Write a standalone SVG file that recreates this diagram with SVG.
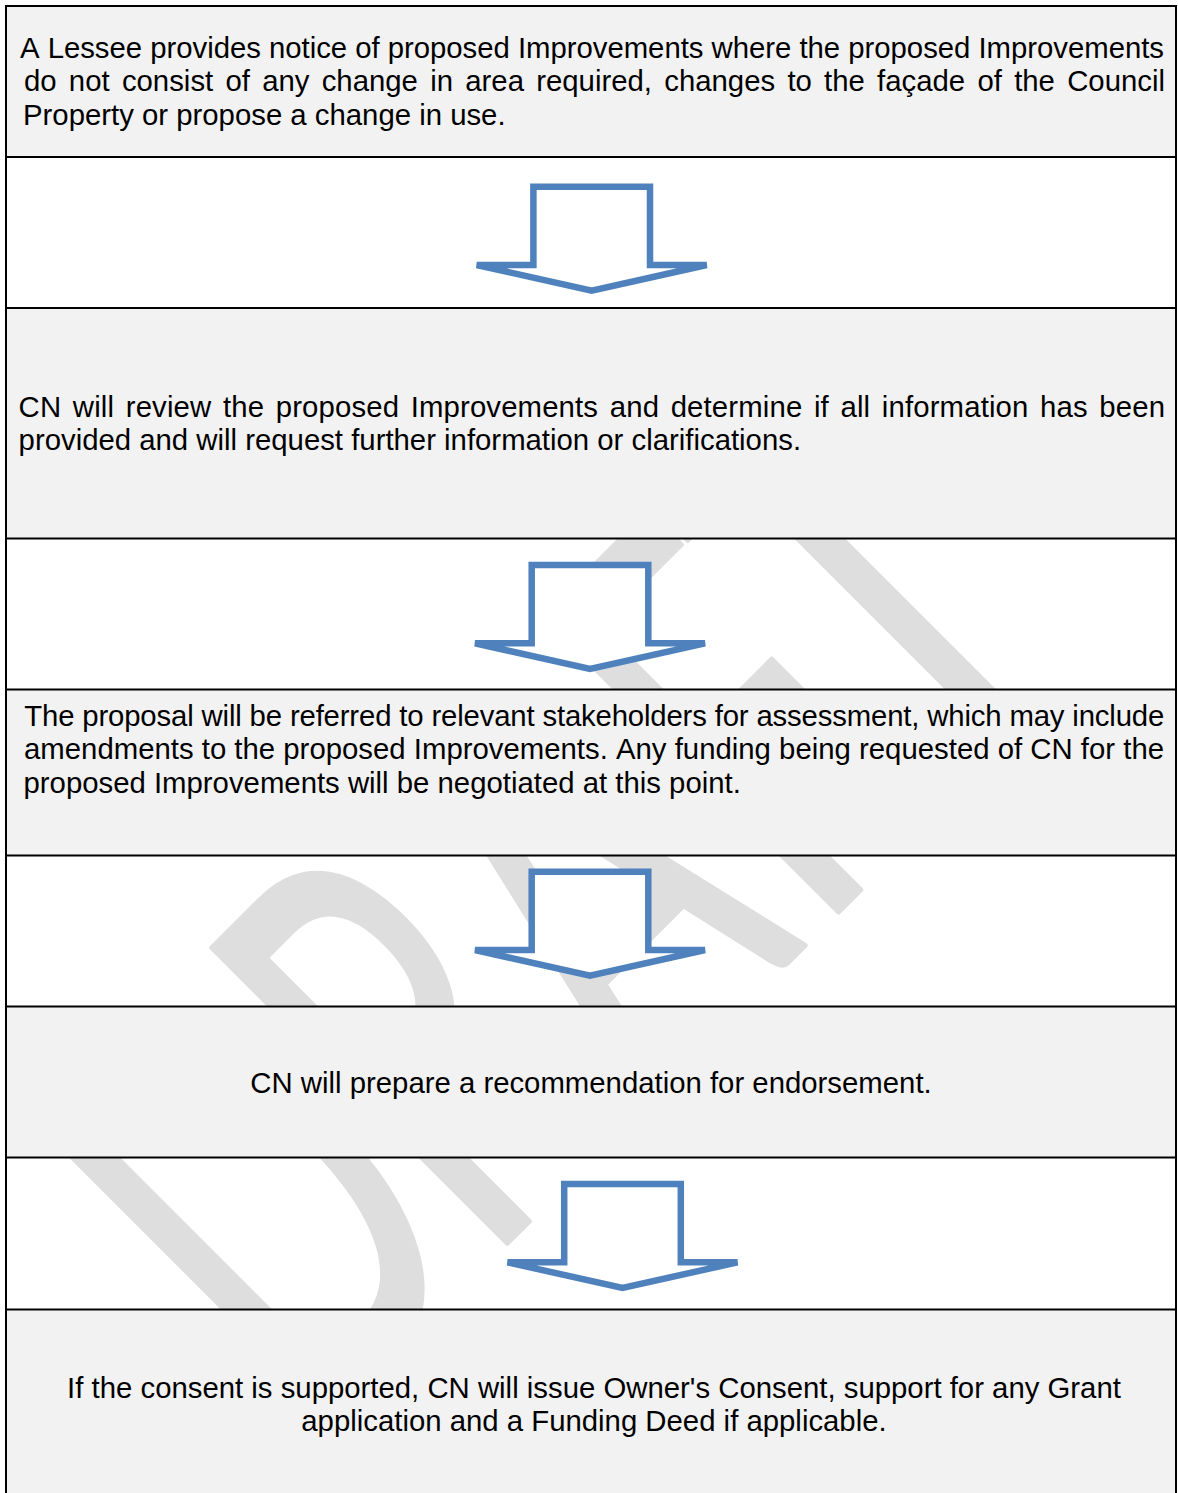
<svg xmlns="http://www.w3.org/2000/svg" width="1178" height="1493" viewBox="0 0 1178 1493">
<style>
.cell{fill:#f2f2f2;stroke:none}
.t{font-family:"Liberation Sans",Arial,sans-serif;font-size:29.33px;fill:#000;font-kerning:none}
.c{text-anchor:middle}
.arrow{fill:#fff;stroke:#4f81bd;stroke-width:6.5;stroke-linejoin:miter}
.grid{stroke:#000;stroke-width:2;fill:none}
.wm{font-family:Lato,"Open Sans",sans-serif;font-size:400px;fill:#dedede;stroke:#dedede;stroke-width:4;stroke-linejoin:round}
</style>
<defs>
<polygon id="darrow" points="-58.3,0 58.3,0 58.3,78.3 115,78.3 0,104 -115,78.3 -58.3,78.3"/>
</defs>
<rect x="0" y="0" width="1178" height="1493" fill="#fff"/>
<text class="wm" transform="translate(325,1425) rotate(-45) scale(0.85,1.455)" x="-25.2 265.3 529.6 816.5 1030.6" y="0">DRAFT</text>
<g id="node1">
<rect class="cell" x="6" y="6" width="1170" height="151"/>
<text class="t" x="20" y="57.5" textLength="1144" lengthAdjust="spacing">A Lessee provides notice of proposed Improvements where the proposed Improvements</text>
<text class="t" x="24" y="91.2" textLength="1141" lengthAdjust="spacing" word-spacing="4.1">do not consist of any change in area required, changes to the façade of the Council</text>
<text class="t" x="23" y="124.9">Property or propose a change in use.</text>
</g>
<g id="node2">
<rect class="cell" x="6" y="308" width="1170" height="230.5"/>
<text class="t" x="18.6" y="416.5" textLength="1146.4" lengthAdjust="spacing" word-spacing="3.3">CN will review the proposed Improvements and determine if all information has been</text>
<text class="t" x="18.6" y="450.2">provided and will request further information or clarifications.</text>
</g>
<g id="node3">
<rect class="cell" x="6" y="689.5" width="1170" height="166"/>
<text class="t" x="24.3" y="725.5" textLength="1140" lengthAdjust="spacing">The proposal will be referred to relevant stakeholders for assessment, which may include</text>
<text class="t" x="24" y="759.2" textLength="1140" lengthAdjust="spacing">amendments to the proposed Improvements. Any funding being requested of CN for the</text>
<text class="t" x="23.5" y="792.9">proposed Improvements will be negotiated at this point.</text>
</g>
<g id="node4">
<rect class="cell" x="6" y="1006.5" width="1170" height="151"/>
<text class="t c" x="591" y="1092.5">CN will prepare a recommendation for endorsement.</text>
</g>
<g id="node5">
<rect class="cell" x="6" y="1309.5" width="1170" height="184"/>
<text class="t c" x="594" y="1397.5">If the consent is supported, CN will issue Owner's Consent, support for any Grant</text>
<text class="t c" x="594" y="1431.2">application and a Funding Deed if applicable.</text>
</g>
<g id="connectors">
<use href="#darrow" class="arrow" transform="translate(591.7,186.7)"/>
<use href="#darrow" class="arrow" transform="translate(590,565)"/>
<use href="#darrow" class="arrow" transform="translate(590,871.7)"/>
<use href="#darrow" class="arrow" transform="translate(622.5,1184)"/>
</g>
<g id="table" class="grid">
<line x1="6" y1="5" x2="6" y2="1493"/>
<line x1="1176" y1="5" x2="1176" y2="1493"/>
<line x1="5" y1="6" x2="1177" y2="6"/>
<line x1="5" y1="157" x2="1177" y2="157"/>
<line x1="5" y1="308" x2="1177" y2="308"/>
<line x1="5" y1="538.5" x2="1177" y2="538.5"/>
<line x1="5" y1="689.5" x2="1177" y2="689.5"/>
<line x1="5" y1="855.5" x2="1177" y2="855.5"/>
<line x1="5" y1="1006.5" x2="1177" y2="1006.5"/>
<line x1="5" y1="1157.5" x2="1177" y2="1157.5"/>
<line x1="5" y1="1309.5" x2="1177" y2="1309.5"/>
</g>
</svg>
